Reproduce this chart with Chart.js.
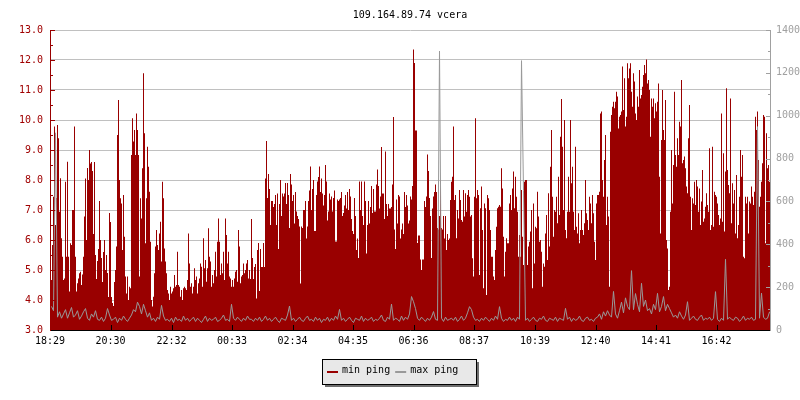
<!DOCTYPE html>
<html>
<head>
<meta charset="utf-8">
<title>109.164.89.74 vcera</title>
<script src="https://cdn.jsdelivr.net/npm/chart.js@4.4.1/dist/chart.umd.min.js"></script>
<style>
  html, body { margin: 0; padding: 0; background: #fff; }
  #wrap { width: 800px; height: 400px; }
</style>
</head>
<body>
<div id="wrap"><canvas id="pingChart" width="800" height="400"></canvas></div>
<script>
const chartTitle = '109.164.89.74 vcera';
const seriesLabels = ['min ping', 'max ping'];
const tickLabels = ['18:29', '20:30', '22:32', '00:33', '02:34', '04:35', '06:36', '08:37', '10:39', '12:40', '14:41', '16:42'];
const tickMinutes = [0, 121, 243, 364, 485, 606, 727, 848, 970, 1091, 1212, 1333];
const spanMinutes = 1440;

// min ping (left axis), one sample every 2 minutes
const minPingStart = 2;
const minPingStep = 2;
const minPing = [
    4.67, 5.83, 7.44, 9.78, 6.5, 7.4, 9.83, 9.39, 6.94, 8.06,
    6.06, 5.44, 4.67, 4.72, 7.94, 5.44, 8.61, 5.44, 4.28, 5.89,
    5.83, 7.0, 7.0, 9.78, 5.44, 4.28, 4.56, 4.72, 4.89, 4.94,
    4.5, 4.85, 5.44, 6.78,
    8.05, 6.0, 8.4, 8.0, 9.0, 8.55, 8.6, 8.3, 6.2, 8.6,
    5.5, 4.7, 5.3, 5.7, 7.3, 6.0, 5.4, 4.6, 5.6, 6.0,
    5.0, 5.5, 4.9, 4.1, 6.9, 6.6, 4.1, 3.9, 3.8, 4.6,
    5.0,
    5.78, 9.5, 10.67, 8.0, 7.39, 7.22, 5.67, 7.5, 6.11, 4.78,
    4.22, 4.78, 4.0, 4.44, 4.39, 8.83, 10.06, 9.28, 9.67, 8.83,
    10.22, 9.67, 8.83, 4.78, 7.39, 6.72, 8.39, 11.56, 9.56, 5.89,
    7.39, 9.11, 8.44, 7.61, 5.94, 4.0, 3.78, 4.11, 4.89, 5.78,
    6.33, 5.83, 5.67, 6.22, 6.61, 5.28, 7.94, 7.39, 5.72, 5.28,
    4.89, 4.33, 4.22, 4.0, 4.44, 4.22, 4.28, 4.39, 4.83, 4.44,
    4.5, 5.61, 4.5, 4.44, 4.11, 4.33, 4.0, 4.39, 4.44, 4.39,
    4.33, 4.67, 6.22, 5.22, 4.44, 4.56, 4.22, 4.44, 5.06, 4.67,
    4.78, 4.22, 4.56, 4.72, 5.22, 5.11, 4.44, 6.06, 5.06, 5.33,
    4.61, 5.06, 6.39, 5.44, 5.28, 4.44, 4.83, 4.56, 5.0, 5.61,
    4.78, 5.94, 6.72, 5.94, 4.83, 5.22, 4.89, 5.61, 4.67, 6.72,
    6.17, 5.22, 5.61, 4.78, 4.72, 4.44, 4.67, 4.44, 4.72, 4.94,
    5.0, 4.61, 6.33, 5.78, 4.56, 4.78, 4.83, 5.22, 4.89, 5.0,
    5.22, 5.33, 4.72, 5.0,
    4.7, 6.7, 5.4, 4.7, 5.1, 5.2, 4.05, 5.67, 5.9, 4.3,
    5.7, 5.1, 5.1, 5.9, 5.1, 8.05, 9.3, 7.4, 8.2, 7.7,
    6.5, 7.3, 7.3, 7.1, 7.2, 7.5, 6.5, 7.55, 5.7, 7.2,
    8.0, 6.8, 7.55, 7.45, 7.55, 7.9, 7.2, 7.9, 7.5, 6.4,
    8.2, 7.85, 7.3, 7.5, 6.55, 7.6, 6.95, 6.8, 6.7, 6.45,
    4.55, 6.45, 6.4, 7.0, 7.0, 7.3, 6.05, 6.45, 7.3, 7.65,
    8.45, 7.0, 7.7, 8.0, 6.3, 6.3, 7.5, 7.95, 8.1, 8.45,
    7.6, 8.05, 7.55, 7.15, 7.5, 8.5, 7.95, 6.65, 6.95, 7.55,
    7.35, 7.45, 6.95, 7.4, 7.65, 5.95, 5.95, 7.35, 7.3, 7.35,
    7.4, 7.6, 6.8, 6.9, 7.15, 7.5, 7.05, 7.6, 7.0, 7.7,
    7.45, 6.7, 6.3, 6.2, 7.4, 6.8, 5.67, 6.05, 5.4, 7.95,
    7.0, 7.95, 6.8, 6.5, 7.95, 7.3, 5.55, 6.5, 7.3, 6.55,
    7.1, 7.8, 6.9, 7.7, 6.95, 6.95, 7.85, 8.35, 7.8, 7.05,
    7.45, 9.1, 7.55, 7.55, 6.7, 8.95, 7.2, 6.8, 7.2, 7.05,
    7.05, 7.1, 7.85, 10.1, 6.35, 5.7, 7.35, 6.55, 7.5, 7.45,
    6.05, 6.35, 6.55, 6.2, 7.6, 7.1, 7.5, 7.15, 6.55, 6.65,
    7.45, 7.35, 7.8, 12.35, 11.9, 9.65, 9.65, 5.9, 6.15, 6.15,
    5.35, 5.0, 5.35, 5.35, 7.3, 7.1, 7.45, 8.85, 8.3, 7.4,
    6.8, 5.4, 7.05, 7.45, 7.6, 7.85, 7.6, 6.4, 6.35, 6.8,
    8.0, 6.4, 6.35, 6.8, 6.05, 6.8, 5.67, 6.2, 6.0, 6.05,
    7.33, 7.94, 8.11, 9.78, 7.33, 7.5, 6.06, 7.0, 6.72, 7.67,
    7.33, 6.67, 6.61, 7.67, 6.78, 7.56, 6.94, 7.5, 7.67, 7.44,
    6.78, 6.83, 5.39, 4.78, 7.44, 10.06, 7.39, 7.67, 7.5, 4.83,
    7.06, 7.78, 6.33, 4.39, 7.22, 7.06, 4.17, 7.5, 7.39, 7.0,
    6.33, 5.44, 5.44, 4.78, 4.67, 5.67, 6.44, 7.06, 7.11, 7.17,
    7.11, 8.39, 7.72, 6.11, 4.78, 5.61, 6.06, 5.89, 5.89, 7.22,
    7.5, 7.0, 7.72, 8.28, 7.06, 8.11, 7.44, 6.94, 5.44, 6.17,
    5.44, 7.67, 6.11, 5.17, 7.94, 8.0, 8.0, 5.17, 5.78, 5.94,
    6.28, 7.0, 4.39, 7.22, 5.22, 6.44, 6.39, 7.61, 6.78, 5.94,
    6.0, 5.61, 4.44, 5.22, 5.11, 6.22, 6.83, 5.33, 7.56, 5.78,
    8.44, 9.67, 7.44, 6.11, 7.0, 6.94, 7.44, 6.56, 8.11, 6.83,
    9.44, 10.7, 9.11, 7.0, 10.0, 6.33, 6.06, 6.94, 8.11, 6.94,
    10.0, 7.89, 8.44, 6.94, 6.33, 9.11, 6.44, 6.22, 6.89, 5.89,
    6.33, 7.0, 6.33, 6.17, 6.56, 8.0, 6.89, 6.67, 6.33, 7.44,
    7.22, 6.56, 7.5, 6.89, 5.94, 5.33, 7.22, 7.5, 7.5, 7.61,
    10.22, 10.28, 8.0, 7.44, 8.67, 9.5, 6.5, 7.44, 6.78, 4.44,
    9.61, 10.17, 10.44, 10.61, 10.39, 10.61, 10.94, 10.78, 9.72, 10.11,
    10.17, 10.28, 11.78, 10.33, 11.39, 9.78, 10.11, 11.89, 11.39, 11.72,
    11.89, 10.94, 10.44, 11.56, 11.28, 10.22, 10.0, 10.78, 10.44, 11.67,
    10.72, 10.83, 11.11, 11.5, 11.83, 11.56, 12.02, 11.22, 11.33, 11.0,
    9.44, 10.72, 10.44, 10.72, 10.06, 10.56, 10.28, 10.61, 11.22, 8.11,
    6.22, 9.33, 11.0, 9.67, 9.33, 10.67, 6.0, 5.72, 4.33, 4.44,
    6.94, 9.0, 7.22, 8.5, 10.94, 8.83, 8.44, 9.39, 8.83, 9.94,
    9.78, 11.33, 8.56, 8.67, 8.78, 8.39, 7.78, 7.56, 9.39, 10.5,
    7.44, 6.33, 7.39, 7.22, 7.94, 7.17, 8.0, 7.78, 6.94, 7.72,
    6.5, 7.28, 8.33, 6.61, 6.72, 7.11, 7.56, 7.17, 6.94, 9.06,
    6.33, 6.5, 9.11, 6.44, 7.61, 7.5, 7.44, 7.22, 6.83, 6.5,
    6.72, 10.22, 6.61, 8.89, 6.28, 8.28, 11.06, 8.33, 7.83, 7.56,
    10.72, 6.56, 7.89, 7.22, 7.67, 6.22, 8.17, 6.06, 6.5, 7.44,
    9.0, 8.11, 8.83, 5.44, 5.39, 7.44, 7.22, 7.44, 6.22, 7.28,
    7.22, 7.78, 7.44, 7.17, 7.61, 10.11, 9.67, 10.28, 8.67, 7.11,
    7.44, 7.94, 8.56, 10.17, 10.11, 5.89, 9.56, 8.39, 8.5, 7.94
];

// max ping (right axis), one sample every 4 minutes
const maxPingStart = 2;
const maxPingStep = 4;
const maxPing = [
    110, 90, 920, 60, 85, 55, 75, 95, 55, 80,
    105, 60, 70, 90, 50, 65, 85, 100, 55, 45,
    75, 60, 90, 50, 45, 60, 40, 55, 100, 70,
    45, 50, 60, 35, 55, 45, 65, 50, 40, 55,
    70, 95, 85, 130, 110, 75, 120, 90, 60, 80,
    45, 55, 40, 60, 50, 115, 65, 45, 50, 40,
    55, 35, 60, 45, 50, 40, 65, 45, 55, 40,
    50, 60, 40, 55, 45, 35, 50, 65, 40, 55,
    45, 50, 60, 40, 45, 55, 70, 45, 50, 40,
    120, 55, 45, 60, 50, 40, 55, 45, 65, 50,
    50, 40, 55, 45, 60, 40, 50, 65, 45, 55,
    40, 50, 60, 45, 35, 55, 50, 45, 70, 112,
    45, 55, 40, 50, 60, 45, 40, 55, 65, 45,
    50, 40, 60, 45, 55, 35, 50, 45, 60, 40,
    55, 45, 65, 50, 96, 45, 55, 40, 50, 60,
    45, 35, 55, 50, 45, 65, 40, 55, 45, 50,
    60, 40, 50, 45, 55, 70, 45, 40, 60, 50,
    121, 45, 55, 50, 40, 65, 45, 60, 50, 75,
    156, 132, 100, 55, 45, 60, 50, 40, 55, 45,
    60, 86, 50, 45, 1302, 55, 40, 60, 45, 50,
    55, 45, 60, 40, 50, 65, 45, 55, 80, 109,
    95, 60, 45, 50, 40, 55, 45, 60, 50, 40,
    55, 45, 65, 50, 109, 55, 40, 50, 45, 60,
    45, 55, 40, 60, 50, 1257, 650, 45, 55, 40,
    50, 60, 45, 40, 55, 50, 65, 45, 40, 55,
    50, 45, 60, 40, 55, 50, 45, 101, 50, 60,
    40, 55, 45, 50, 65, 45, 40, 55, 60, 45,
    50, 40, 55, 60, 75, 50, 85, 65, 90, 70,
    60, 180, 75, 55, 90, 130, 80, 150, 110, 95,
    277, 95, 170, 120, 85, 218, 110, 140, 90, 100,
    75, 120, 95, 171, 85, 110, 156, 90, 120, 100,
    80, 60, 70, 55, 85, 65, 50, 70, 132, 45,
    55, 65, 50, 45, 60, 70, 45, 55, 50, 60,
    45, 55, 179, 50, 40, 55, 45, 330, 50, 60,
    50, 45, 60, 55, 40, 50, 65, 45, 55, 50,
    60, 45, 50, 949, 55, 172, 60, 50, 55, 84
];

const redColor = '#990000';
const grayColor = '#999999';
const monoFont = '"DejaVu Sans Mono", monospace';

Chart.defaults.font.family = monoFont;
Chart.defaults.font.size = 10;

// turn a sample list into points; closing point ends the last step at the right edge
function toPoints(values, start, step, close) {
    const pts = values.map((v, i) => ({ x: start + i * step, y: v }));
    if (close) pts.push({ x: spanMinutes, y: values[values.length - 1] });
    return pts;
}

// chart title above the plot
const titlePlugin = {
    id: 'titlePlugin',
    afterDraw: (chart) => {
        const { ctx, chartArea } = chart;
        ctx.save();
        ctx.font = '10px ' + monoFont;
        ctx.fillStyle = '#000';
        ctx.textAlign = 'center';
        ctx.textBaseline = 'alphabetic';
        ctx.fillText(chartTitle, (chartArea.left + chartArea.right) / 2, 18);
        ctx.restore();
    }
};

// short tick marks pointing into the plot, like rrdtool draws them
const innerTicksPlugin = {
    id: 'innerTicksPlugin',
    afterDatasetsDraw: (chart) => {
        const { ctx, chartArea, scales } = chart;
        ctx.save();
        ctx.lineWidth = 1;

        const yl = scales.y;
        ctx.strokeStyle = redColor;
        for (let v = yl.min; v <= yl.max + 1e-6; v += 0.5) {
            const py = Math.round(yl.getPixelForValue(v)) + 0.5;
            const len = Number.isInteger(v) ? 5 : 3;
            ctx.beginPath();
            ctx.moveTo(chartArea.left, py);
            ctx.lineTo(chartArea.left + len, py);
            ctx.stroke();
        }

        const yr = scales.y2;
        ctx.strokeStyle = '#a0a0a0';
        for (let v = yr.min; v <= yr.max; v += 100) {
            const py = Math.round(yr.getPixelForValue(v)) + 0.5;
            const len = v % 200 === 0 ? 5 : 3;
            ctx.beginPath();
            ctx.moveTo(chartArea.right + 1, py);
            ctx.lineTo(chartArea.right + 1 - len, py);
            ctx.stroke();
        }

        const xs = scales.x;
        ctx.strokeStyle = '#000';
        tickMinutes.forEach((m) => {
            const px = Math.round(xs.getPixelForValue(m)) + 0.5;
            ctx.beginPath();
            ctx.moveTo(px, chartArea.bottom);
            ctx.lineTo(px, chartArea.bottom - 5);
            ctx.stroke();
        });
        ctx.restore();
    }
};

// draw the thin max ping line through pixel centres
const crispLinePlugin = {
    id: 'crispLinePlugin',
    beforeDatasetDraw: (chart, args) => {
        if (args.index === 1) {
            chart.ctx.save();
            chart.ctx.translate(0.5, 0);
        }
    },
    afterDatasetDraw: (chart, args) => {
        if (args.index === 1) chart.ctx.restore();
    }
};

// boxed legend with drop shadow under the plot
const legendBoxPlugin = {
    id: 'legendBoxPlugin',
    afterDraw: (chart) => {
        const { ctx } = chart;
        const sets = chart.data.datasets;
        const left = 322, top = 359, w = 154, h = 25;
        ctx.save();
        ctx.fillStyle = '#6e6e6e';
        ctx.fillRect(left + 3, top + 3, w, h);
        ctx.fillStyle = '#e8e8e8';
        ctx.fillRect(left, top, w, h);
        ctx.strokeStyle = '#000';
        ctx.lineWidth = 1;
        ctx.strokeRect(left + 0.5, top + 0.5, w, h);

        ctx.font = '10px ' + monoFont;
        ctx.textAlign = 'left';
        ctx.textBaseline = 'alphabetic';
        let x = left + 5;
        sets.forEach((ds, i) => {
            ctx.fillStyle = i === 0 ? redColor : grayColor;
            ctx.fillRect(x, top + 12, 11, 2);
            ctx.fillStyle = '#000';
            ctx.fillText(ds.label, x + 15, top + 14);
            x += 15 + ctx.measureText(ds.label).width + 5;
        });
        ctx.restore();
    }
};

new Chart(document.getElementById('pingChart').getContext('2d'), {
    type: 'line',
    data: {
        datasets: [{
            label: seriesLabels[0],
            data: toPoints(minPing, minPingStart, minPingStep, true),
            yAxisID: 'y',
            stepped: true,
            fill: 'start',
            backgroundColor: redColor,
            borderColor: 'rgba(0,0,0,0)',
            borderWidth: 0,
            pointRadius: 0,
            order: 1
        }, {
            label: seriesLabels[1],
            data: toPoints(maxPing, maxPingStart, maxPingStep, true),
            yAxisID: 'y2',
            fill: false,
            tension: 0,
            borderColor: grayColor,
            borderWidth: 1,
            pointRadius: 0,
            order: 0
        }]
    },
    options: {
        responsive: false,
        animation: false,
        events: [],
        layout: { padding: { top: 30, left: 0, right: 0, bottom: 0 } },
        plugins: {
            legend: { display: false },
            tooltip: { enabled: false }
        },
        scales: {
            x: {
                type: 'linear',
                min: 0,
                max: spanMinutes,
                afterBuildTicks: (scale) => {
                    scale.ticks = tickMinutes.map((v) => ({ value: v }));
                },
                afterFit: (scale) => { scale.height = 70; },
                grid: { display: false, drawTicks: false },
                border: { color: '#000', z: 1 },
                ticks: {
                    autoSkip: false,
                    maxRotation: 0,
                    padding: 5,
                    color: '#000',
                    callback: (value, index) => tickLabels[index]
                }
            },
            y: {
                position: 'left',
                min: 3,
                max: 13,
                afterFit: (scale) => { scale.width = 50; },
                grid: { color: '#c0c0c0', drawTicks: false },
                border: { color: redColor, z: 1 },
                ticks: {
                    stepSize: 1,
                    padding: 7,
                    color: '#a00000',
                    callback: (v) => v.toFixed(1)
                }
            },
            y2: {
                position: 'right',
                min: 0,
                max: 1400,
                afterFit: (scale) => { scale.width = 30; },
                grid: { display: false, drawTicks: false },
                border: { color: '#a0a0a0', z: 1 },
                ticks: {
                    stepSize: 200,
                    padding: 6,
                    color: '#a0a0a0',
                    callback: (v) => String(v)
                }
            }
        }
    },
    plugins: [titlePlugin, innerTicksPlugin, crispLinePlugin, legendBoxPlugin]
});
</script>
</body>
</html>
